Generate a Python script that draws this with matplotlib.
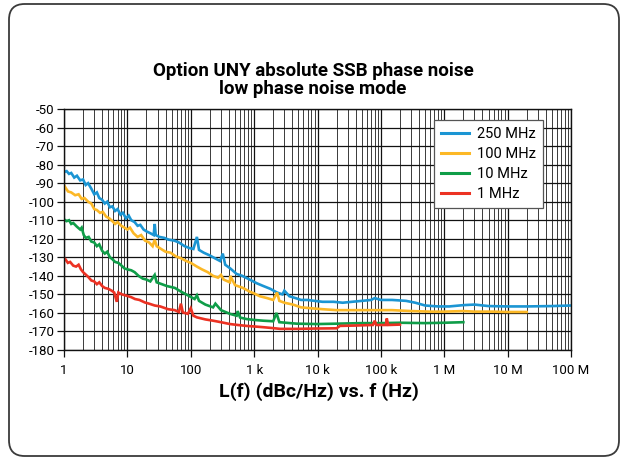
import matplotlib
matplotlib.use("Agg")
import matplotlib.pyplot as plt
from matplotlib.patches import FancyBboxPatch
from matplotlib.ticker import FixedLocator, LogLocator, NullFormatter

plt.rcParams['font.family'] = ['Roboto', 'Liberation Sans', 'DejaVu Sans']

# Offset frequency (Hz) and SSB phase noise L(f) (dBc/Hz) per carrier
f_250 = [1, 1.1, 1.2, 1.3, 1.45, 1.6, 1.8, 2.0, 2.2, 2.4, 2.7, 3.0, 3.3, 3.6, 4.0,
         4.4, 4.8, 5.3, 5.8, 6.4, 7, 7.8, 8.5, 9.5, 10.5, 11.5, 13, 14.5, 16, 18,
         20, 23, 26, 27, 28, 32, 38, 45, 55, 65, 80, 95, 110, 125, 135, 160, 200,
         240, 290, 320, 350, 420, 530, 650, 850, 1100, 1400, 1800, 2300, 2800,
         3000, 3600, 4500, 5500, 7000, 9000, 12000, 18000, 25000, 35000, 50000,
         70000, 80000, 100000, 150000, 250000, 350000, 500000, 800000, 1.2e6,
         2e6, 3e6, 5e6, 1e7, 2e7, 5e7, 1e8]
L_250 = [-84, -83.5, -85, -84.5, -87, -86, -88.5, -88, -91, -90, -93, -96, -95,
         -98, -99, -101, -100, -103, -102.5, -105, -104, -107, -106, -109, -107.5,
         -110, -111, -113, -112.5, -115, -116, -117, -118, -112, -118, -119,
         -119.5, -120.5, -121, -122, -124, -125, -125.5, -119, -126, -127.5, -129,
         -130.5, -132, -128, -134, -136, -139, -140, -142, -144, -145.5, -147,
         -149, -150, -148, -151, -152, -153, -153, -153.5, -154, -154, -154.5,
         -154, -153.5, -153, -152, -153, -153, -153.5, -154.5, -156, -156.5,
         -156.5, -155.8, -155.5, -156.3, -156.5, -156.5, -156.3, -156]

f_100 = [1, 1.08, 1.16, 1.3, 1.5, 1.7, 1.9, 2.1, 2.4, 2.7, 3.0, 3.3, 3.7, 4.1, 4.6,
         5.2, 5.8, 6.4, 7, 8, 9, 10, 11, 12.5, 14.5, 16.5, 19, 22, 25, 27, 29, 34,
         40, 48, 58, 70, 85, 100, 125, 150, 185, 225, 270, 300, 330, 415, 420, 500,
         665, 850, 1000, 1230, 1600, 2000, 2300, 2500, 3000, 4100, 5500, 8000,
         12000, 20000, 40000, 80000, 150000, 300000, 600000, 1e6, 2e6, 3e6, 6e6,
         1e7, 2e7]
L_100 = [-91, -93, -94.5, -95, -96.5, -96, -98.5, -98, -100, -101, -104, -104.5,
         -106, -105.5, -108, -109, -110.5, -112, -111, -113, -114, -115, -114,
         -117, -119, -118, -121, -122, -124, -120.5, -124, -125.5, -127, -127.5,
         -129.5, -130.5, -132, -133, -135, -136.5, -138, -140, -141, -139.5, -142,
         -143.5, -140, -145, -146.5, -148.5, -149.5, -151, -152, -153, -149,
         -153.5, -154.5, -155.5, -157, -157.5, -158, -158.5, -158.5, -158.5,
         -158.5, -159, -159.3, -159.3, -159, -159.3, -159.3, -159.5, -159.5]

f_10 = [1, 1.1, 1.2, 1.3, 1.4, 1.6, 1.8, 1.9, 2.05, 2.2, 2.45, 2.7, 3.0, 3.3, 3.6,
        4.0, 4.4, 4.8, 5.3, 5.8, 6.4, 7.2, 8.1, 9, 10, 11.5, 13, 15, 17.5, 20, 23,
        27, 29, 35, 42, 56, 70, 90, 115, 125, 135, 170, 225, 245, 300, 415, 530,
        550, 600, 760, 1000, 1400, 2000, 2250, 2500, 4700, 10000, 20000, 50000,
        100000, 200000, 500000, 1e6, 2e6]
L_10 = [-109.5, -110.5, -110, -112, -111.5, -113.5, -115, -114, -118, -119.5, -119,
        -121.5, -122, -124, -123, -126.5, -128, -127, -130, -131, -132.5, -133,
        -134.5, -136, -136.5, -137, -138, -140, -141.5, -142, -143, -139.5,
        -143.5, -144.5, -145.5, -146.5, -148.5, -150.5, -152.5, -150.5, -153.5,
        -155.5, -157, -155, -158.5, -160.5, -161.5, -159, -162.5, -163.3, -163.8,
        -164.2, -164.5, -160, -165, -165.8, -166, -165.8, -165.5, -165.5, -165.3,
        -165.5, -165.3, -165]

f_1 = [1, 1.05, 1.15, 1.25, 1.4, 1.55, 1.7, 1.85, 2.0, 2.15, 2.4, 2.7, 3.0, 3.3,
       3.6, 4.0, 4.4, 5.0, 5.65, 6.2, 6.8, 7.2, 8.2, 9.9, 11.5, 13.2, 15.5, 19, 22,
       27, 33, 44, 56, 65, 70, 75, 90, 100, 110, 125, 170, 226, 300, 415, 550, 760,
       1000, 1390, 2000, 2560, 4700, 10000, 20000, 22600, 40000, 75000, 80000,
       85000, 120000, 124000, 130000, 200000]
L_1 = [-130.5, -131, -133, -132.5, -134.5, -135, -134, -136.5, -138, -139, -140.5,
       -142.5, -143, -144.5, -143.5, -145.5, -146.5, -147, -148, -149, -154, -149,
       -150, -150.8, -151.5, -152.5, -153, -154.4, -155, -156, -156.5, -158,
       -158.5, -159.5, -155, -159.7, -160.5, -157.5, -161.5, -162.4, -163.5,
       -164.2, -165, -166, -166.5, -167, -167.3, -167.7, -168.2, -168.6, -168.6,
       -168.4, -168.3, -167, -166.8, -166.5, -164.2, -166.5, -166.5, -163, -166.5,
       -166.3]

series = [
    ("250 MHz", f_250, L_250, "#1b95d3"),
    ("100 MHz", f_100, L_100, "#fcb826"),
    ("10 MHz", f_10, L_10, "#0f9d48"),
    ("1 MHz", f_1, L_1, "#ec3223"),
]

y_ticks = list(range(-50, -190, -10))
x_ticks = [1, 10, 100, 1e3, 1e4, 1e5, 1e6, 1e7, 1e8]
x_tick_labels = ["1", "10", "100", "1 k", "10 k", "100 k", "1 M", "10 M", "100 M"]

fig = plt.figure(figsize=(6.26, 4.62), dpi=100)
ax = fig.add_axes([64 / 626, 1 - 350 / 462, 507 / 626, 241 / 462])

# rounded frame around the whole figure
frame = FancyBboxPatch((9 / 626, 6 / 462), 610 / 626, 452 / 462,
                       boxstyle="round,pad=0,rounding_size=0.025",
                       transform=fig.transFigure, fill=False,
                       edgecolor="#3a3a3a", linewidth=1.3,
                       mutation_aspect=626 / 462)
fig.patches.append(frame)

for name, f, L, c in series:
    ax.plot(f, L, color=c, lw=1.9, label=name, solid_joinstyle="miter")

ax.set_xscale("log")
ax.set_xlim(1, 1e8)
ax.set_ylim(-180, -50)

ax.xaxis.set_major_locator(FixedLocator(x_ticks))
ax.set_xticklabels(x_tick_labels)
ax.xaxis.set_minor_locator(LogLocator(base=10, subs=range(2, 10), numticks=20))
ax.xaxis.set_minor_formatter(NullFormatter())
ax.set_yticks(y_ticks)
ax.set_yticklabels([str(v) for v in y_ticks])

ax.grid(which="major", axis="both", color="#111111", lw=0.9)
ax.grid(which="minor", axis="x", color="#3a3a3a", lw=0.7)
ax.tick_params(axis="x", which="major", direction="out", length=5, width=0.9,
               labelsize=9.5, pad=5, color="#111111")
ax.tick_params(axis="x", which="minor", length=0)
ax.tick_params(axis="y", which="major", direction="out", length=5, width=0.9,
               labelsize=9.5, pad=2, color="#111111")
for s in ax.spines.values():
    s.set_color("#111111")
    s.set_linewidth(1.0)

fig.text(313 / 626, 1 - 79.5 / 462,
         "Option UNY absolute SSB phase noise\nlow phase noise mode",
         ha="center", va="center", fontsize=13.5, fontweight="bold",
         linespacing=1.0)
fig.text(319 / 626, 1 - 392 / 462, "L(f) (dBc/Hz) vs. f (Hz)",
         ha="center", va="center", fontsize=14, fontweight="bold")

leg = ax.legend(loc="upper right",
                bbox_to_anchor=((543 - 64) / 507, (350 - 120) / 241),
                bbox_transform=ax.transAxes, fontsize=10.5, frameon=True,
                fancybox=False, edgecolor="#555555", framealpha=1,
                handlelength=1.9, handletextpad=0.55, borderpad=0.5,
                labelspacing=0.4, borderaxespad=0)
leg.get_frame().set_linewidth(0.9)
for h in leg.get_lines():
    h.set_linewidth(2.2)

fig.savefig("out.png", dpi=100)
